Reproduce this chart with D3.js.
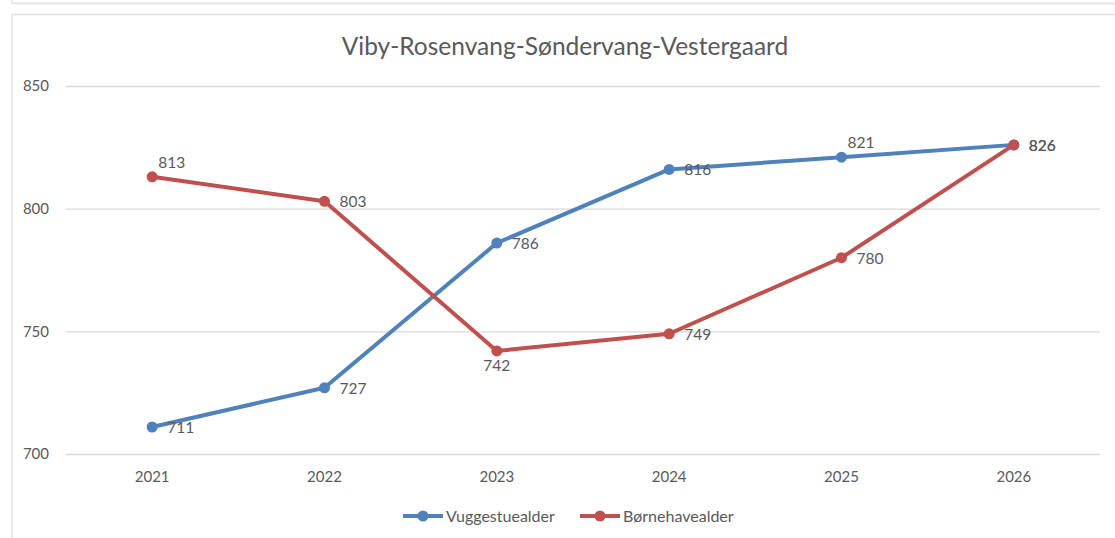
<!DOCTYPE html>
<html>
<head>
<meta charset="utf-8">
<script src="https://cdn.jsdelivr.net/npm/d3@7"></script>
<style>
  body { margin: 0; background: #fff; }
  text { font-family: Lato, "Open Sans", sans-serif; fill: #595959; }
</style>
</head>
<body>
<div id="chartdiv"></div>
<script>
// --- data ---
let years = ["2021", "2022", "2023", "2024", "2025", "2026"]
let vuggestue = [711, 727, 786, 816, 821, 826]
let boernehave = [813, 803, 742, 749, 780, 826]
let yTicks = [700, 750, 800, 850]
let seriesNames = ["Vuggestuealder", "Børnehavealder"]

let width = 1115
let height = 538
let leftMargin = 66
let rightMargin = 15
let topMargin = 86
let plotHeight = 454 - 86

let svg = d3.select("#chartdiv").append("svg")
  .attr("width", width)
  .attr("height", height)

// frame lines (screenshot borders)
svg.append("line").attr("x1", 12).attr("x2", width).attr("y1", 3.5).attr("y2", 3.5)
  .attr("stroke", "#e3e3e3").attr("stroke-width", 1.5)
svg.append("line").attr("x1", 12).attr("x2", 12).attr("y1", 0).attr("y2", 4)
  .attr("stroke", "#e3e3e3").attr("stroke-width", 1.5)
svg.append("line").attr("x1", 12).attr("x2", width).attr("y1", 14.5).attr("y2", 14.5)
  .attr("stroke", "#e3e3e3").attr("stroke-width", 1.5)
svg.append("line").attr("x1", 12).attr("x2", 12).attr("y1", 14).attr("y2", height)
  .attr("stroke", "#e3e3e3").attr("stroke-width", 1.5)

let xscale = d3.scaleBand()
  .domain(years)
  .range([leftMargin, width - rightMargin])
let yscale = d3.scaleLinear()
  .domain([700, 850])
  .range([topMargin + plotHeight, topMargin])

// title
svg.append("text")
  .attr("x", 565).attr("y", 55)
  .attr("text-anchor", "middle")
  .attr("font-size", 24.5)
  .text("Viby-Rosenvang-Søndervang-Vestergaard")

// y axis with gridlines
let yAxis = svg.append("g")
  .attr("transform", `translate(${leftMargin},0)`)
  .call(d3.axisLeft(yscale).tickValues(yTicks).tickSize(-(width - rightMargin - leftMargin)).tickPadding(17))
yAxis.select(".domain").remove()
yAxis.selectAll(".tick line").attr("stroke", "#d9d9d9").attr("stroke-width", 1.3)
yAxis.selectAll(".tick text").attr("font-size", 15).attr("fill", "#595959")

// x axis labels
let xAxis = svg.append("g")
  .attr("transform", `translate(0,${topMargin + plotHeight})`)
  .call(d3.axisBottom(xscale).tickSize(0).tickPadding(17))
xAxis.select(".domain").remove()
xAxis.selectAll(".tick text").attr("font-size", 15).attr("fill", "#595959")

let cx = d => xscale(d) + xscale.bandwidth() / 2
let line = d3.line().x((d, i) => cx(years[i])).y(d => yscale(d))

let series = [
  { name: seriesNames[0], values: vuggestue, color: "#4f81bd",
    pos: ["r", "r", "r", "r", "t", "r"] },
  { name: seriesNames[1], values: boernehave, color: "#c0504d",
    pos: ["t", "r", "b", "r", "r", "r"] }
]

series.forEach(s => {
  svg.append("path")
    .datum(s.values)
    .attr("d", line)
    .attr("fill", "none")
    .attr("stroke", s.color)
    .attr("stroke-width", 4)
    .attr("stroke-linejoin", "round")
  svg.selectAll(null)
    .data(s.values)
    .enter().append("circle")
    .attr("cx", (d, i) => cx(years[i]))
    .attr("cy", d => yscale(d))
    .attr("r", 5.5)
    .attr("fill", s.color)
})

// data labels
series.forEach(s => {
  s.values.forEach((v, i) => {
    let x = cx(years[i]), y = yscale(v)
    let p = s.pos[i]
    let t = svg.append("text").attr("font-size", 15.5).attr("fill", "#404040").text(v)
    if (p === "r") t.attr("x", x + 15).attr("y", y + 6)
    if (p === "t") t.attr("x", x + 6).attr("y", y - 9)
    if (p === "b") t.attr("x", x).attr("y", y + 20).attr("text-anchor", "middle")
  })
})

// legend
let legendItems = [
  { name: seriesNames[0], color: "#4f81bd", x: 403 },
  { name: seriesNames[1], color: "#c0504d", x: 580 }
]
legendItems.forEach(l => {
  let g = svg.append("g").attr("transform", `translate(${l.x},516)`)
  g.append("line").attr("x1", 0).attr("x2", 40).attr("stroke", l.color).attr("stroke-width", 4)
  g.append("circle").attr("cx", 20).attr("r", 5.5).attr("fill", l.color)
  g.append("text").attr("x", 43).attr("y", 5.5).attr("font-size", 16).text(l.name)
})
</script>
</body>
</html>
